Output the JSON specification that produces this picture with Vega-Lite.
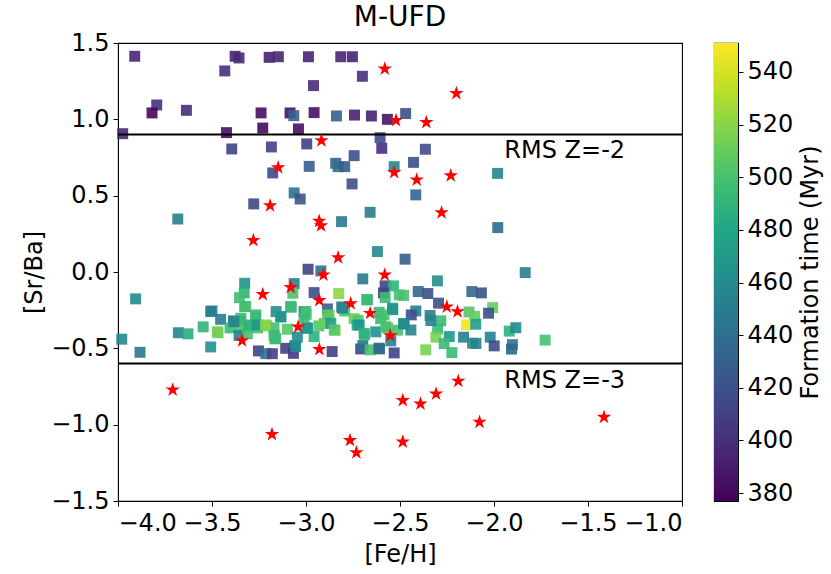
{
  "$schema": "https://vega.github.io/schema/vega-lite/v6.json",
  "padding": {"left": 22, "top": 3, "right": 5, "bottom": 5},
  "background": "white",
  "spacing": 29,
  "config": {
    "font": "DejaVu Sans",
    "view": {"stroke": "black", "strokeWidth": 1.1},
    "axis": {"grid": false, "labelFontSize": 24, "titleFontSize": 24, "titleFontWeight": "normal", "labelColor": "black", "titleColor": "black", "domainColor": "black", "tickColor": "black", "tickSize": 5, "labelPadding": 4}
  },
  "datasets": {
    "squares": [
      {"feh": -3.911, "srba": 1.413, "t": 395},
      {"feh": -3.377, "srba": 1.413, "t": 393},
      {"feh": -3.356, "srba": 1.402, "t": 397},
      {"feh": -3.196, "srba": 1.406, "t": 392},
      {"feh": -3.147, "srba": 1.41, "t": 395},
      {"feh": -2.987, "srba": 1.41, "t": 393},
      {"feh": -2.815, "srba": 1.41, "t": 395},
      {"feh": -2.753, "srba": 1.41, "t": 393},
      {"feh": -3.432, "srba": 1.317, "t": 400},
      {"feh": -2.96, "srba": 1.221, "t": 398},
      {"feh": -2.7, "srba": 1.282, "t": 400},
      {"feh": -3.794, "srba": 1.094, "t": 400},
      {"feh": -3.819, "srba": 1.042, "t": 380},
      {"feh": -3.636, "srba": 1.059, "t": 398},
      {"feh": -3.239, "srba": 1.042, "t": 383},
      {"feh": -3.085, "srba": 1.042, "t": 385},
      {"feh": -3.065, "srba": 1.024, "t": 430},
      {"feh": -2.957, "srba": 1.044, "t": 385},
      {"feh": -2.838, "srba": 1.022, "t": 430},
      {"feh": -2.742, "srba": 1.028, "t": 392},
      {"feh": -2.652, "srba": 1.022, "t": 392},
      {"feh": -2.567, "srba": 1.0, "t": 385},
      {"feh": -2.47, "srba": 1.038, "t": 420},
      {"feh": -3.975, "srba": 0.906, "t": 395},
      {"feh": -3.423, "srba": 0.913, "t": 383},
      {"feh": -3.23, "srba": 0.943, "t": 381},
      {"feh": -3.04, "srba": 0.937, "t": 383},
      {"feh": -2.606, "srba": 0.88, "t": 418},
      {"feh": -2.597, "srba": 0.81, "t": 400},
      {"feh": -3.395, "srba": 0.806, "t": 412},
      {"feh": -3.184, "srba": 0.819, "t": 412},
      {"feh": -2.996, "srba": 0.839, "t": 408},
      {"feh": -2.744, "srba": 0.762, "t": 418},
      {"feh": -2.842, "srba": 0.712, "t": 430},
      {"feh": -2.829, "srba": 0.69, "t": 440},
      {"feh": -2.794, "srba": 0.69, "t": 428},
      {"feh": -2.983, "srba": 0.692, "t": 428},
      {"feh": -3.177, "srba": 0.649, "t": 415},
      {"feh": -2.531, "srba": 0.69, "t": 458},
      {"feh": -2.755, "srba": 0.577, "t": 418},
      {"feh": -3.063, "srba": 0.518, "t": 440},
      {"feh": -3.031, "srba": 0.478, "t": 422},
      {"feh": -3.278, "srba": 0.446, "t": 413},
      {"feh": -3.682, "srba": 0.347, "t": 452},
      {"feh": -2.811, "srba": 0.33, "t": 447},
      {"feh": -2.659, "srba": 0.391, "t": 450},
      {"feh": -2.365, "srba": 0.804, "t": 415},
      {"feh": -2.428, "srba": 0.718, "t": 420},
      {"feh": -1.981, "srba": 0.646, "t": 458},
      {"feh": -2.416, "srba": 0.505, "t": 432},
      {"feh": -1.98, "srba": 0.291, "t": 438},
      {"feh": -2.62, "srba": 0.134, "t": 460},
      {"feh": -2.473, "srba": 0.084, "t": 428},
      {"feh": -2.989, "srba": 0.018, "t": 410},
      {"feh": -2.921, "srba": 0.007, "t": 445},
      {"feh": -2.698, "srba": -0.045, "t": 447},
      {"feh": -3.326, "srba": -0.074, "t": 465},
      {"feh": -3.063, "srba": -0.076, "t": 452},
      {"feh": -2.579, "srba": -0.091, "t": 412},
      {"feh": -2.535, "srba": -0.091, "t": 490},
      {"feh": -3.906, "srba": -0.176, "t": 460},
      {"feh": -3.329, "srba": -0.137, "t": 490},
      {"feh": -3.354, "srba": -0.168, "t": 498},
      {"feh": -3.07, "srba": -0.139, "t": 500},
      {"feh": -2.957, "srba": -0.135, "t": 415},
      {"feh": -2.826, "srba": -0.141, "t": 522},
      {"feh": -2.588, "srba": -0.137, "t": 412},
      {"feh": -2.579, "srba": -0.167, "t": 495},
      {"feh": -2.481, "srba": -0.153, "t": 500},
      {"feh": -2.677, "srba": -0.18, "t": 495},
      {"feh": -2.81, "srba": -0.229, "t": 445},
      {"feh": -3.326, "srba": -0.227, "t": 490},
      {"feh": -3.078, "srba": -0.231, "t": 495},
      {"feh": -3.5, "srba": -0.255, "t": 457},
      {"feh": -3.159, "srba": -0.259, "t": 462},
      {"feh": -3.01, "srba": -0.259, "t": 440},
      {"feh": -2.886, "srba": -0.242, "t": 430},
      {"feh": -2.794, "srba": -0.255, "t": 500},
      {"feh": -2.538, "srba": -0.247, "t": 462},
      {"feh": -2.611, "srba": -0.264, "t": 495},
      {"feh": -3.454, "srba": -0.31, "t": 450},
      {"feh": -3.267, "srba": -0.295, "t": 500},
      {"feh": -3.134, "srba": -0.295, "t": 490},
      {"feh": -2.999, "srba": -0.279, "t": 505},
      {"feh": -2.877, "srba": -0.284, "t": 515},
      {"feh": -2.744, "srba": -0.306, "t": 510},
      {"feh": -2.723, "srba": -0.317, "t": 505},
      {"feh": -2.603, "srba": -0.306, "t": 495},
      {"feh": -3.386, "srba": -0.32, "t": 455},
      {"feh": -3.347, "srba": -0.317, "t": 500},
      {"feh": -3.547, "srba": -0.359, "t": 490},
      {"feh": -3.468, "srba": -0.398, "t": 510},
      {"feh": -3.679, "srba": -0.398, "t": 455},
      {"feh": -3.628, "srba": -0.405, "t": 485},
      {"feh": -3.98, "srba": -0.44, "t": 460},
      {"feh": -3.404, "srba": -0.366, "t": 495},
      {"feh": -3.351, "srba": -0.37, "t": 500},
      {"feh": -3.303, "srba": -0.359, "t": 495},
      {"feh": -3.258, "srba": -0.366, "t": 500},
      {"feh": -3.209, "srba": -0.353, "t": 515},
      {"feh": -3.17, "srba": -0.366, "t": 500},
      {"feh": -3.099, "srba": -0.375, "t": 505},
      {"feh": -2.996, "srba": -0.366, "t": 475},
      {"feh": -2.932, "srba": -0.353, "t": 505},
      {"feh": -2.904, "srba": -0.337, "t": 510},
      {"feh": -2.845, "srba": -0.381, "t": 520},
      {"feh": -2.728, "srba": -0.348, "t": 480},
      {"feh": -2.689, "srba": -0.412, "t": 495},
      {"feh": -2.629, "srba": -0.392, "t": 465},
      {"feh": -2.567, "srba": -0.366, "t": 505},
      {"feh": -2.513, "srba": -0.381, "t": 500},
      {"feh": -2.481, "srba": -0.337, "t": 470},
      {"feh": -3.356, "srba": -0.416, "t": 455},
      {"feh": -3.312, "srba": -0.405, "t": 500},
      {"feh": -3.17, "srba": -0.416, "t": 495},
      {"feh": -3.166, "srba": -0.438, "t": 500},
      {"feh": -3.046, "srba": -0.427, "t": 460},
      {"feh": -2.957, "srba": -0.423, "t": 490},
      {"feh": -2.549, "srba": -0.451, "t": 455},
      {"feh": -3.507, "srba": -0.491, "t": 465},
      {"feh": -3.06, "srba": -0.482, "t": 470},
      {"feh": -3.253, "srba": -0.517, "t": 410},
      {"feh": -3.214, "srba": -0.535, "t": 445},
      {"feh": -3.179, "srba": -0.535, "t": 410},
      {"feh": -3.108, "srba": -0.5, "t": 410},
      {"feh": -3.067, "srba": -0.533, "t": 405},
      {"feh": -2.861, "srba": -0.521, "t": 410},
      {"feh": -2.709, "srba": -0.504, "t": 410},
      {"feh": -2.698, "srba": -0.482, "t": 445},
      {"feh": -2.659, "srba": -0.51, "t": 500},
      {"feh": -2.609, "srba": -0.504, "t": 445},
      {"feh": -2.531, "srba": -0.53, "t": 410},
      {"feh": -3.883, "srba": -0.526, "t": 445},
      {"feh": -3.321, "srba": -0.226, "t": 500},
      {"feh": -3.268, "srba": -0.281, "t": 495},
      {"feh": -3.347, "srba": -0.303, "t": 495},
      {"feh": -3.383, "srba": -0.325, "t": 455},
      {"feh": -3.303, "srba": -0.347, "t": 490},
      {"feh": -3.259, "srba": -0.347, "t": 470},
      {"feh": -3.215, "srba": -0.347, "t": 520},
      {"feh": -3.161, "srba": -0.435, "t": 495},
      {"feh": -3.082, "srba": -0.226, "t": 495},
      {"feh": -3.134, "srba": -0.292, "t": 465},
      {"feh": -3.001, "srba": -0.259, "t": 500},
      {"feh": -3.01, "srba": -0.303, "t": 495},
      {"feh": -2.992, "srba": -0.369, "t": 470},
      {"feh": -2.885, "srba": -0.281, "t": 505},
      {"feh": -2.868, "srba": -0.336, "t": 475},
      {"feh": -2.85, "srba": -0.38, "t": 505},
      {"feh": -2.806, "srba": -0.237, "t": 455},
      {"feh": -2.717, "srba": -0.347, "t": 470},
      {"feh": -2.691, "srba": -0.402, "t": 490},
      {"feh": -2.673, "srba": -0.183, "t": 495},
      {"feh": -2.585, "srba": -0.281, "t": 500},
      {"feh": -2.54, "srba": -0.237, "t": 470},
      {"feh": -2.576, "srba": -0.358, "t": 500},
      {"feh": -3.507, "srba": -0.259, "t": 450},
      {"feh": -3.472, "srba": -0.391, "t": 515},
      {"feh": -3.055, "srba": -0.488, "t": 460},
      {"feh": -2.612, "srba": -0.499, "t": 435},
      {"feh": -2.504, "srba": -0.15, "t": 500},
      {"feh": -1.834, "srba": -0.004, "t": 450},
      {"feh": -2.301, "srba": -0.058, "t": 462},
      {"feh": -2.403, "srba": -0.128, "t": 435},
      {"feh": -2.352, "srba": -0.141, "t": 418},
      {"feh": -2.118, "srba": -0.128, "t": 435},
      {"feh": -2.067, "srba": -0.137, "t": 420},
      {"feh": -2.295, "srba": -0.204, "t": 420},
      {"feh": -2.416, "srba": -0.255, "t": 450},
      {"feh": -2.44, "srba": -0.281, "t": 420},
      {"feh": -2.34, "srba": -0.285, "t": 450},
      {"feh": -2.283, "srba": -0.32, "t": 495},
      {"feh": -2.133, "srba": -0.262, "t": 505},
      {"feh": -2.103, "srba": -0.29, "t": 510},
      {"feh": -2.007, "srba": -0.233, "t": 510},
      {"feh": -2.029, "srba": -0.27, "t": 420},
      {"feh": -2.146, "srba": -0.346, "t": 548},
      {"feh": -2.097, "srba": -0.342, "t": 475},
      {"feh": -2.442, "srba": -0.38, "t": 455},
      {"feh": -2.3, "srba": -0.373, "t": 495},
      {"feh": -2.309, "srba": -0.427, "t": 515},
      {"feh": -2.238, "srba": -0.423, "t": 470},
      {"feh": -2.162, "srba": -0.427, "t": 450},
      {"feh": -2.265, "srba": -0.469, "t": 495},
      {"feh": -2.114, "srba": -0.466, "t": 460},
      {"feh": -2.096, "srba": -0.468, "t": 455},
      {"feh": -2.02, "srba": -0.427, "t": 455},
      {"feh": -1.999, "srba": -0.484, "t": 415},
      {"feh": -1.919, "srba": -0.387, "t": 490},
      {"feh": -1.884, "srba": -0.365, "t": 460},
      {"feh": -1.902, "srba": -0.476, "t": 445},
      {"feh": -1.907, "srba": -0.505, "t": 435},
      {"feh": -1.728, "srba": -0.446, "t": 500},
      {"feh": -2.363, "srba": -0.51, "t": 515},
      {"feh": -2.224, "srba": -0.528, "t": 495},
      {"feh": -2.336, "srba": -0.318, "t": 455},
      {"feh": -2.478, "srba": -0.341, "t": 460}
    ],
    "stars": [
      {"feh": -2.581, "srba": 1.33},
      {"feh": -2.521, "srba": 0.994},
      {"feh": -2.918, "srba": 0.86},
      {"feh": -3.148, "srba": 0.684},
      {"feh": -2.531, "srba": 0.653},
      {"feh": -3.191, "srba": 0.435},
      {"feh": -2.93, "srba": 0.334},
      {"feh": -2.92, "srba": 0.304},
      {"feh": -2.2, "srba": 1.17},
      {"feh": -2.36, "srba": 0.98},
      {"feh": -2.411, "srba": 0.603},
      {"feh": -2.23, "srba": 0.631},
      {"feh": -2.279, "srba": 0.389},
      {"feh": -3.28, "srba": 0.208},
      {"feh": -2.829, "srba": 0.095},
      {"feh": -2.907, "srba": -0.019},
      {"feh": -2.581, "srba": -0.019},
      {"feh": -3.081, "srba": -0.1},
      {"feh": -3.23, "srba": -0.146},
      {"feh": -2.929, "srba": -0.185},
      {"feh": -2.762, "srba": -0.207},
      {"feh": -2.659, "srba": -0.27},
      {"feh": -3.042, "srba": -0.359},
      {"feh": -3.34, "srba": -0.449},
      {"feh": -2.552, "srba": -0.416},
      {"feh": -2.929, "srba": -0.506},
      {"feh": -2.251, "srba": -0.228},
      {"feh": -2.194, "srba": -0.259},
      {"feh": -3.709, "srba": -0.772},
      {"feh": -3.181, "srba": -1.063},
      {"feh": -2.766, "srba": -1.102},
      {"feh": -2.732, "srba": -1.183},
      {"feh": -2.485, "srba": -0.841},
      {"feh": -2.485, "srba": -1.113},
      {"feh": -2.391, "srba": -0.863},
      {"feh": -2.308, "srba": -0.798},
      {"feh": -2.19, "srba": -0.715},
      {"feh": -2.077, "srba": -0.983},
      {"feh": -1.415, "srba": -0.95}
    ],
    "levels": [
      {"y": 0.9, "label": "RMS Z=-2", "lx": -1.945, "ly": 0.75},
      {"y": -0.6, "label": "RMS Z=-3", "lx": -1.945, "ly": -0.76}
    ],
    "bar": [{"lo": 377, "hi": 551}]
  },
  "hconcat": [
    {
      "width": 564,
      "height": 458,
      "title": {"text": "M-UFD", "fontSize": 28, "fontWeight": "normal", "color": "black", "offset": -1},
      "layer": [
        {
          "data": {"name": "squares"},
          "mark": {"type": "point", "shape": "square", "filled": true, "size": 120, "opacity": 0.9},
          "encoding": {
            "x": {"field": "feh", "type": "quantitative",
                  "scale": {"domain": [-4, -1], "nice": false, "zero": false},
                  "axis": {"title": "[Fe/H]", "values": [-4, -3.5, -3, -2.5, -2, -1.5, -1], "format": ".1f", "labelPadding": 5, "titlePadding": 7}},
            "y": {"field": "srba", "type": "quantitative",
                  "scale": {"domain": [-1.5, 1.5], "nice": false, "zero": false},
                  "axis": {"title": "[Sr/Ba]", "values": [-1.5, -1, -0.5, 0, 0.5, 1, 1.5], "format": ".1f"}},
            "color": {"field": "t", "type": "quantitative",
                      "scale": {"scheme": "viridis", "domain": [377, 551]}, "legend": null}
          }
        },
        {
          "data": {"name": "levels"},
          "mark": {"type": "rule", "color": "black", "strokeWidth": 2},
          "encoding": {"y": {"field": "y", "type": "quantitative"}}
        },
        {
          "data": {"name": "stars"},
          "mark": {"type": "point", "shape": "M0,-1L0.2245,-0.309L0.951,-0.309L0.363,0.118L0.588,0.809L0,0.382L-0.588,0.809L-0.363,0.118L-0.951,-0.309L-0.2245,-0.309Z", "filled": true, "color": "red", "size": 230, "opacity": 1},
          "encoding": {
            "x": {"field": "feh", "type": "quantitative"},
            "y": {"field": "srba", "type": "quantitative"}
          }
        },
        {
          "data": {"name": "levels"},
          "mark": {"type": "text", "align": "left", "baseline": "alphabetic", "fontSize": 24, "color": "black"},
          "encoding": {
            "x": {"field": "lx", "type": "quantitative"},
            "y": {"field": "ly", "type": "quantitative"},
            "text": {"field": "label"}
          }
        }
      ]
    },
    {
      "width": 24,
      "height": 458,
      "data": {"name": "bar"},
      "mark": {
        "type": "rect",
        "color": {
          "gradient": "linear", "x1": 0, "y1": 1, "x2": 0, "y2": 0,
          "stops": [
            {"offset": 0.0, "color": "#440154"},
            {"offset": 0.1, "color": "#482475"},
            {"offset": 0.2, "color": "#414487"},
            {"offset": 0.3, "color": "#355f8d"},
            {"offset": 0.4, "color": "#2a788e"},
            {"offset": 0.5, "color": "#21918c"},
            {"offset": 0.6, "color": "#22a884"},
            {"offset": 0.7, "color": "#44bf70"},
            {"offset": 0.8, "color": "#7ad151"},
            {"offset": 0.9, "color": "#bddf26"},
            {"offset": 1.0, "color": "#fde725"}
          ]
        }
      },
      "encoding": {
        "y": {"field": "lo", "type": "quantitative",
              "scale": {"domain": [377, 551], "nice": false, "zero": false},
              "axis": {"orient": "right", "title": "Formation time (Myr)", "titleAngle": 270, "titleBaseline": "top", "titlePadding": 6, "values": [380, 400, 420, 440, 460, 480, 500, 520, 540]}},
        "y2": {"field": "hi"}
      }
    }
  ]
}
